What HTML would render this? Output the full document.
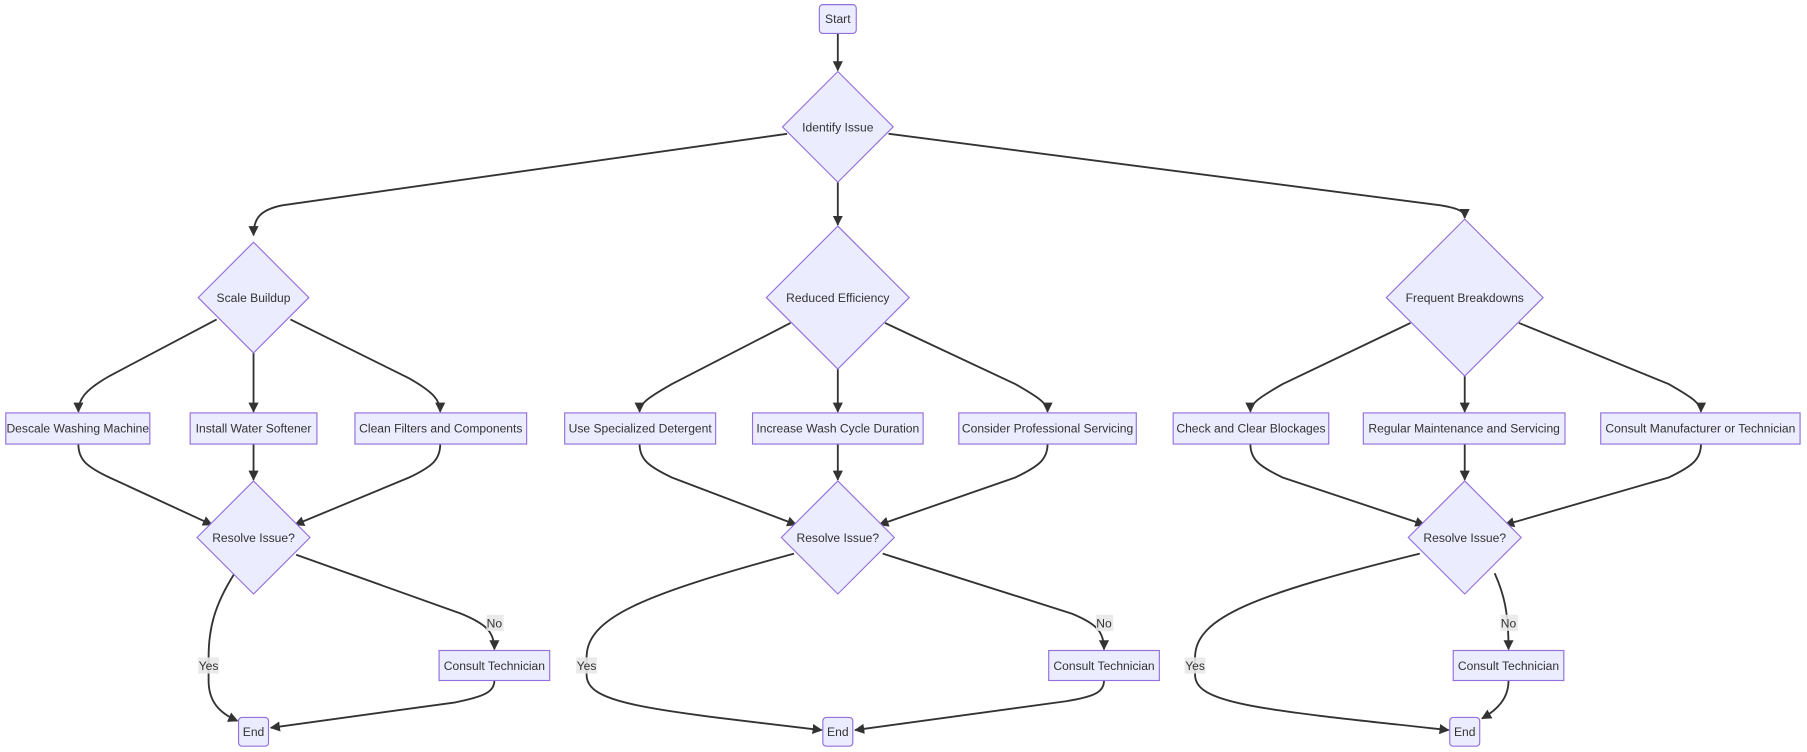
<!DOCTYPE html>
<html><head><meta charset="utf-8"><style>
html,body{margin:0;padding:0;background:#fff;}
svg{display:block;}
text{font-family:"Liberation Sans",sans-serif;font-size:10.5px;fill:#333;}
.n{fill:#ECECFF;stroke:#9370DB;stroke-width:1;}
.e{fill:none;stroke:#333;stroke-width:1.6;}
.lb{fill:#e8e8e8;opacity:0.9;}
</style></head><body>
<svg width="1807" height="752" viewBox="0 0 1568 652" preserveAspectRatio="none" xmlns="http://www.w3.org/2000/svg">
<defs><marker id="a" viewBox="0 0 10 10" refX="9" refY="5" markerWidth="5.5" markerHeight="5.5" orient="auto"><path d="M0,0L10,5L0,10z" fill="#333"/></marker></defs>
<g class="edges">
<path class="e" marker-end="url(#a)" d="M727,29 L727,61"/>
<path class="e" marker-end="url(#a)" d="M683,116 L245,178 C225,182 220,190 220,204"/>
<path class="e" marker-end="url(#a)" d="M727,158 L727,195"/>
<path class="e" marker-end="url(#a)" d="M771,116 L1250,178 C1268,181 1271,184 1271,189"/>

<path class="e" marker-end="url(#a)" d="M188,277 L95,326 C74,338 68,346 68,357"/>
<path class="e" marker-end="url(#a)" d="M220,306 L220,357"/>
<path class="e" marker-end="url(#a)" d="M252,277 L355,328 C376,340 382,347 382,357"/>
<path class="e" marker-end="url(#a)" d="M686,280 L583,333 C562,345 555,350 555,357"/>
<path class="e" marker-end="url(#a)" d="M727,320 L727,357"/>
<path class="e" marker-end="url(#a)" d="M768,280 L881,333 C902,345 909,350 909,357"/>
<path class="e" marker-end="url(#a)" d="M1224,280 L1113,333 C1092,345 1085,350 1085,357"/>
<path class="e" marker-end="url(#a)" d="M1271,326 L1271,357"/>
<path class="e" marker-end="url(#a)" d="M1318,280 L1448,333 C1469,345 1476,350 1476,357"/>

<path class="e" marker-end="url(#a)" d="M68,385 C68,398 74,404 95,414 L184,455"/>
<path class="e" marker-end="url(#a)" d="M220,385 L220,416"/>
<path class="e" marker-end="url(#a)" d="M382,385 C382,398 376,404 355,414 L256,455"/>
<path class="e" marker-end="url(#a)" d="M555,385 C555,398 562,404 583,414 L691,455"/>
<path class="e" marker-end="url(#a)" d="M727,385 L727,416"/>
<path class="e" marker-end="url(#a)" d="M909,385 C909,398 902,404 881,414 L763,455"/>
<path class="e" marker-end="url(#a)" d="M1085,385 C1085,398 1092,404 1113,414 L1236,455"/>
<path class="e" marker-end="url(#a)" d="M1271,385 L1271,416"/>
<path class="e" marker-end="url(#a)" d="M1476,385 C1476,398 1469,404 1448,414 L1306,455"/>

<path class="e" marker-end="url(#a)" d="M203,498 C186,525 181,545 181,570 L181,590 C181,608 190,618 206,625"/>
<path class="e" marker-end="url(#a)" d="M257,481 L400,532 C422,541 429,548 429,563"/>
<path class="e" marker-end="url(#a)" d="M429,590 C429,600 420,604 395,609 L235,631"/>

<path class="e" marker-end="url(#a)" d="M689,480 C560,515 509,535 509,570 L509,585 C509,610 560,615 713,633"/>
<path class="e" marker-end="url(#a)" d="M766,480 L930,532 C952,541 958,548 958,563"/>
<path class="e" marker-end="url(#a)" d="M958,590 C958,600 950,604 925,608 L742,633"/>

<path class="e" marker-end="url(#a)" d="M1232,480 C1090,515 1037,535 1037,570 L1037,585 C1037,610 1090,615 1257,633"/>
<path class="e" marker-end="url(#a)" d="M1297,497 C1305,515 1309,530 1309,563"/>
<path class="e" marker-end="url(#a)" d="M1309,590 C1309,605 1300,615 1286,623"/>
</g>
<g>
<rect class="lb" x="422" y="533" width="15" height="14"/><text x="429" y="544" text-anchor="middle">No</text>
<rect class="lb" x="172" y="570" width="18" height="14"/><text x="181" y="581" text-anchor="middle">Yes</text>
<rect class="lb" x="951" y="533" width="15" height="14"/><text x="958" y="544" text-anchor="middle">No</text>
<rect class="lb" x="500" y="570" width="18" height="14"/><text x="509" y="581" text-anchor="middle">Yes</text>
<rect class="lb" x="1302" y="533" width="15" height="14"/><text x="1309" y="544" text-anchor="middle">No</text>
<rect class="lb" x="1028" y="570" width="18" height="14"/><text x="1037" y="581" text-anchor="middle">Yes</text>
</g>
<g>
<rect class="n" x="711" y="4" width="32" height="25" rx="3"/><text x="727" y="20" text-anchor="middle">Start</text>
<polygon class="n" points="727,62 775,110 727,158 679,110"/><text x="727" y="114" text-anchor="middle">Identify Issue</text>
<polygon class="n" points="220,210 268,258 220,306 172,258"/><text x="220" y="262" text-anchor="middle">Scale Buildup</text>
<polygon class="n" points="727,196 789,258 727,320 665,258"/><text x="727" y="262" text-anchor="middle">Reduced Efficiency</text>
<polygon class="n" points="1271,190 1339,258 1271,326 1203,258"/><text x="1271" y="262" text-anchor="middle">Frequent Breakdowns</text>

<rect class="n" x="5" y="358" width="125" height="27"/><text x="67.5" y="375" text-anchor="middle">Descale Washing Machine</text>
<rect class="n" x="165" y="358" width="110" height="27"/><text x="220" y="375" text-anchor="middle">Install Water Softener</text>
<rect class="n" x="308" y="358" width="149" height="27"/><text x="382.5" y="375" text-anchor="middle">Clean Filters and Components</text>
<rect class="n" x="490" y="358" width="131" height="27"/><text x="555.5" y="375" text-anchor="middle">Use Specialized Detergent</text>
<rect class="n" x="653" y="358" width="148" height="27"/><text x="727" y="375" text-anchor="middle">Increase Wash Cycle Duration</text>
<rect class="n" x="832" y="358" width="154" height="27"/><text x="909" y="375" text-anchor="middle">Consider Professional Servicing</text>
<rect class="n" x="1018" y="358" width="135" height="27"/><text x="1085.5" y="375" text-anchor="middle">Check and Clear Blockages</text>
<rect class="n" x="1183" y="358" width="175" height="27"/><text x="1270.5" y="375" text-anchor="middle">Regular Maintenance and Servicing</text>
<rect class="n" x="1389" y="358" width="173" height="27"/><text x="1475.5" y="375" text-anchor="middle">Consult Manufacturer or Technician</text>

<polygon class="n" points="220,417 269,466 220,515 171,466"/><text x="220" y="470" text-anchor="middle">Resolve Issue?</text>
<polygon class="n" points="727,417 776,466 727,515 678,466"/><text x="727" y="470" text-anchor="middle">Resolve Issue?</text>
<polygon class="n" points="1271,417 1320,466 1271,515 1222,466"/><text x="1271" y="470" text-anchor="middle">Resolve Issue?</text>

<rect class="n" x="381" y="564" width="96" height="26"/><text x="429" y="581" text-anchor="middle">Consult Technician</text>
<rect class="n" x="910" y="564" width="96" height="26"/><text x="958" y="581" text-anchor="middle">Consult Technician</text>
<rect class="n" x="1261" y="564" width="96" height="26"/><text x="1309" y="581" text-anchor="middle">Consult Technician</text>

<rect class="n" x="207" y="622" width="26" height="25" rx="3"/><text x="220" y="638" text-anchor="middle">End</text>
<rect class="n" x="714" y="622" width="26" height="25" rx="3"/><text x="727" y="638" text-anchor="middle">End</text>
<rect class="n" x="1258" y="622" width="26" height="25" rx="3"/><text x="1271" y="638" text-anchor="middle">End</text>
</g>
</svg>
</body></html>
